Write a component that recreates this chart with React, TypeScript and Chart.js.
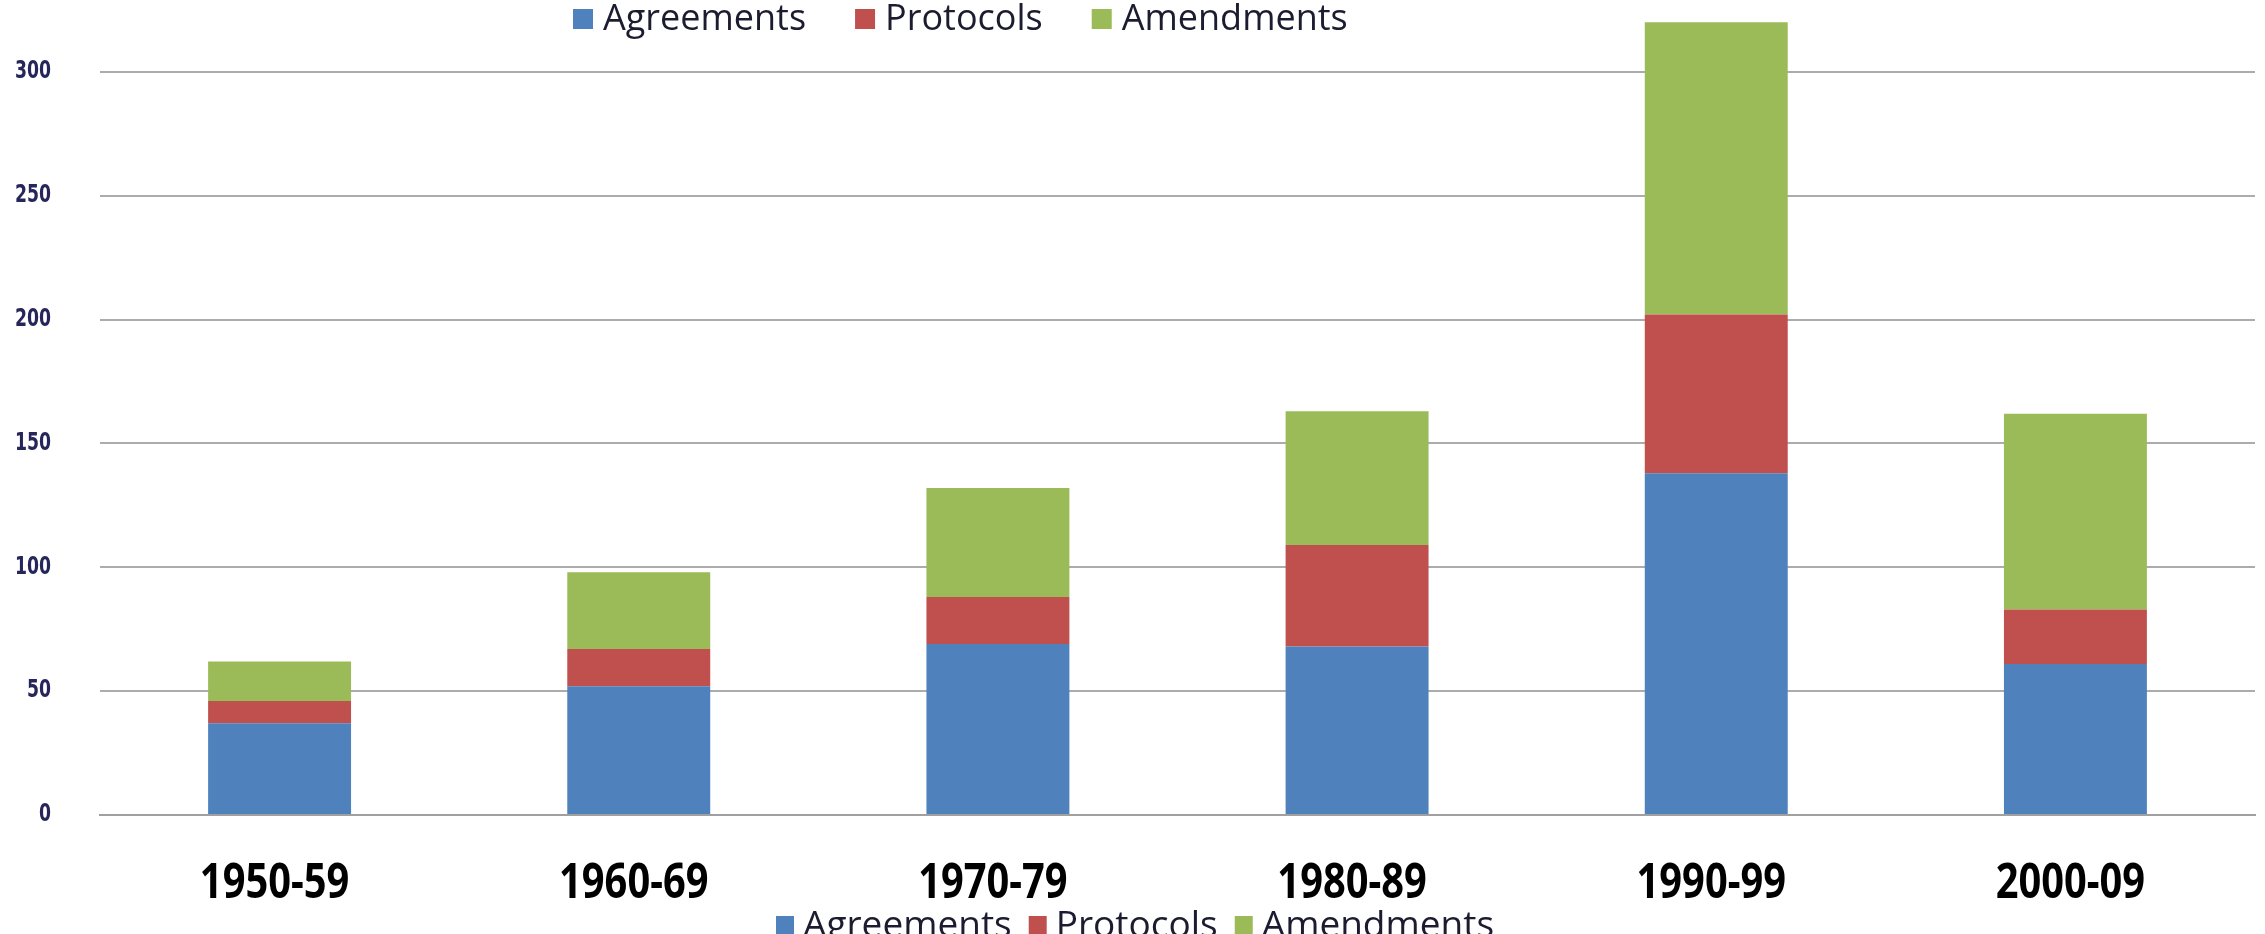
import { useEffect, useRef } from "react";
import { Chart, registerables } from "chart.js";

Chart.register(...registerables);

const categories = ["1950-59", "1960-69", "1970-79", "1980-89", "1990-99", "2000-09"];
const seriesNames = ["Agreements", "Protocols", "Amendments"];
const agreements = [37, 52, 69, 68, 138, 61];
const protocols = [9, 15, 19, 41, 64, 22];
const amendments = [16, 31, 44, 54, 118, 79];
const seriesColors = ["#4F81BD", "#C0504D", "#9BBB59"];
const yTicks = [0, 50, 100, 150, 200, 250, 300];
const yMin = 0;
const yMax = 329;

const X_LABEL_STRETCH = 0.83;
const Y_LABEL_STRETCH = 0.72;

const legendSpots = [
  { x: 573, y: 19, box: 20, gap: 10, itemGap: 49, font: "36px 'Open Sans', 'Noto Sans', sans-serif" },
  { x: 776, y: 925, box: 18, gap: 9, itemGap: 17, font: "37px 'Open Sans', 'Noto Sans', sans-serif" },
];

// narrow the tick label glyphs horizontally (around each label's anchor)
function patchLabelStretch(scale: any, factor: number) {
  if (!scale || scale.__stretched) return;
  const orig = scale.drawLabels.bind(scale);
  scale.drawLabels = (area: any) => {
    const c: any = scale.ctx;
    const protoRotate = CanvasRenderingContext2D.prototype.rotate;
    c.rotate = function (a: number) {
      protoRotate.call(this, a);
      this.scale(factor, 1);
    };
    try {
      orig(area);
    } finally {
      delete c.rotate;
    }
  };
  scale.__stretched = true;
}

const stretchPlugin = {
  id: "labelStretch",
  beforeDraw(chart: any) {
    patchLabelStretch(chart.scales.x, X_LABEL_STRETCH);
    patchLabelStretch(chart.scales.y, Y_LABEL_STRETCH);
  },
};

const legendPlugin = {
  id: "dualLegend",
  afterDraw(chart: any) {
    const ctx = chart.ctx as CanvasRenderingContext2D;
    ctx.save();
    ctx.textBaseline = "middle";
    ctx.textAlign = "left";
    for (const spot of legendSpots) {
      ctx.font = spot.font;
      let x = spot.x;
      chart.data.datasets.forEach((ds: any) => {
        ctx.fillStyle = ds.backgroundColor;
        ctx.fillRect(x, spot.y - spot.box / 2, spot.box, spot.box);
        x += spot.box + spot.gap;
        ctx.fillStyle = "#1c1c30";
        ctx.fillText(ds.label, x, spot.y + 1);
        x += ctx.measureText(ds.label).width + spot.itemGap;
      });
    }
    ctx.restore();
  },
};

export default function App() {
  const ref = useRef<HTMLCanvasElement | null>(null);

  useEffect(() => {
    if (!ref.current) return;
    const values = [agreements, protocols, amendments];
    const chart = new Chart(ref.current, {
      type: "bar",
      data: {
        labels: categories,
        datasets: seriesNames.map((name, i) => ({
          label: name,
          data: values[i],
          backgroundColor: seriesColors[i],
          borderWidth: 0,
          categoryPercentage: 1,
          barPercentage: 0.398,
          clip: false as any,
        })),
      },
      options: {
        animation: false,
        responsive: false,
        devicePixelRatio: 1,
        layout: { padding: { left: 0, right: 10, top: 0, bottom: 0 } },
        plugins: {
          legend: { display: false },
          tooltip: { enabled: false },
        },
        scales: {
          x: {
            stacked: true,
            grid: { display: false, drawTicks: false },
            border: { display: true, color: "#a0a0a0", width: 2 },
            ticks: {
              padding: 41,
              labelOffset: -5,
              color: "#000000",
              font: {
                family: "'Noto Sans', 'Open Sans', sans-serif",
                size: 48,
                weight: "bold",
              },
            },
            afterFit: (s: any) => {
              s.height = 119;
            },
          },
          y: {
            stacked: true,
            min: yMin,
            max: yMax,
            bounds: "data",
            grid: { color: "#acacac", lineWidth: 2, drawTicks: false },
            border: { display: false },
            ticks: {
              padding: 49,
              color: "#26265a",
              font: { family: "'DejaVu Sans', sans-serif", size: 24, weight: "bold" },
            },
            afterBuildTicks: (s: any) => {
              s.ticks = yTicks.map((v) => ({ value: v }));
              s.min = yMin;
              s.max = yMax;
            },
            afterFit: (s: any) => {
              s.width = 100;
              s.paddingTop = 0;
              s.paddingBottom = 0;
            },
          },
        },
      },
      plugins: [stretchPlugin, legendPlugin],
    });
    return () => chart.destroy();
  }, []);

  return (
    <div style={{ position: "fixed", left: 0, top: 0, width: 2265, height: 934, background: "#ffffff", overflow: "hidden" }}>
      <canvas ref={ref} width={2265} height={934} style={{ display: "block", width: 2265, height: 934 }} />
    </div>
  );
}
